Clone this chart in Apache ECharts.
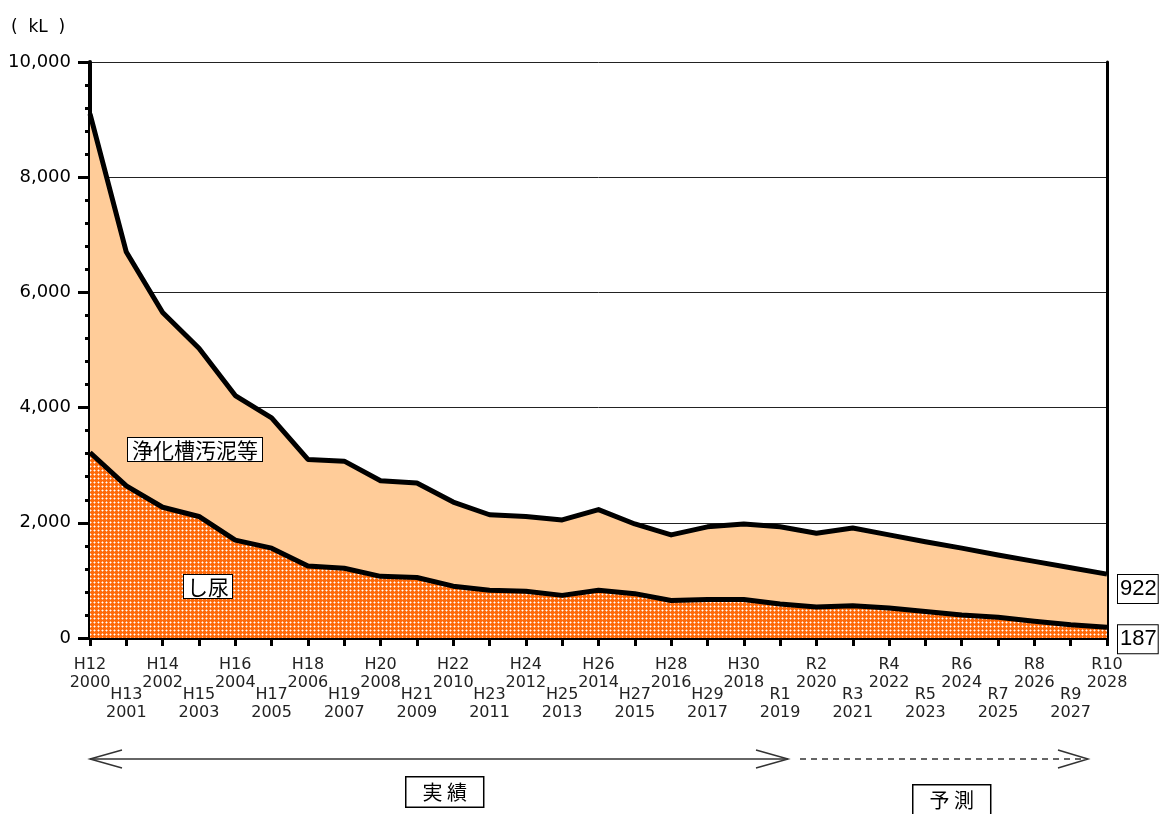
<!DOCTYPE html>
<html>
<head>
<meta charset="utf-8">
<script src="https://cdn.jsdelivr.net/npm/echarts@6/dist/echarts.min.js"></script>
<style>
  html, body { margin: 0; padding: 0; background: #fff; }
  #chart { width: 1161px; height: 814px; }
</style>
</head>
<body>
<div id="chart"></div>
<script>
// Fiscal years (Japanese era + western year)
const eraLabels = ['H12','H13','H14','H15','H16','H17','H18','H19','H20','H21','H22','H23','H24','H25','H26','H27','H28','H29','H30','R1','R2','R3','R4','R5','R6','R7','R8','R9','R10'];
const years = ['2000','2001','2002','2003','2004','2005','2006','2007','2008','2009','2010','2011','2012','2013','2014','2015','2016','2017','2018','2019','2020','2021','2022','2023','2024','2025','2026','2027','2028'];

// Night soil (kL)
const nightSoil = [3220,2640,2270,2110,1700,1560,1250,1210,1070,1050,900,830,810,740,830,770,650,670,670,590,540,560,520,460,400,360,290,230,187];
// Septic tank sludge etc. (kL), stacked on top of night soil
const septicSludge = [5880,4060,3380,2920,2510,2260,1850,1860,1660,1640,1460,1310,1300,1310,1400,1210,1140,1260,1310,1340,1280,1350,1270,1210,1160,1080,1040,990,922];

const yTicks = { min: 0, max: 10000, interval: 2000 };

// dotted orange fill for the night soil band
function dotPattern() {
  const c = document.createElement('canvas');
  c.width = 4; c.height = 4;
  const g = c.getContext('2d');
  g.fillStyle = '#FF6A0A';
  g.fillRect(0, 0, 4, 4);
  g.fillStyle = '#FFB585';
  g.fillRect(1, 2, 1, 1); g.fillRect(3, 2, 1, 1);
  g.fillRect(2, 1, 1, 1); g.fillRect(2, 3, 1, 1);
  g.fillStyle = '#FFFFFF';
  g.fillRect(2, 2, 1, 1);
  return { image: c, repeat: 'repeat' };
}

// boxed value shown beyond the last point of a series
const endValueLabel = (offsetY) => ({
  show: true,
  distance: 11,
  offset: [0, offsetY],
  formatter: (p) => String(p.value),
  fontFamily: 'Liberation Sans',
  fontSize: 22,
  color: '#000',
  backgroundColor: '#fff',
  borderColor: '#000',
  borderWidth: 1,
  padding: [4, 1, 2, 2]
});

const categories = years.map((y, i) => eraLabels[i] + '|' + y);

const chart = echarts.init(document.getElementById('chart'), null, { renderer: 'canvas' });

chart.setOption({
  animation: false,
  backgroundColor: '#fff',
  grid: { left: 90, right: 54, top: 62, bottom: 176 },
  xAxis: [{
    type: 'category',
    data: categories,
    boundaryGap: false,
    axisLine: { lineStyle: { color: '#000', width: 4 } },
    axisTick: { show: true, length: 8, lineStyle: { color: '#000', width: 3 } },
    axisLabel: {
      interval: 0,
      margin: 18,
      fontFamily: 'DejaVu Sans',
      fontSize: 16,
      color: '#222',
      formatter: (v, i) => {
        const [era, yr] = v.split('|');
        return i % 2 === 0 ? `{a|${era}}\n{a|${yr}}` : `{s| }\n{a|${era}}\n{a|${yr}}`;
      },
      rich: {
        a: { fontFamily: 'DejaVu Sans', fontSize: 16, lineHeight: 18, color: '#222' },
        s: { fontSize: 2, lineHeight: 30 }
      }
    },
    splitLine: { show: false }
  }, {
    type: 'category',
    data: categories,
    position: 'top',
    boundaryGap: false,
    axisLine: { lineStyle: { color: '#000', width: 3 } },
    axisTick: { show: false },
    axisLabel: { show: false }
  }],
  yAxis: [{
    type: 'value',
    min: yTicks.min,
    max: yTicks.max,
    interval: yTicks.interval,
    axisLine: { show: true, lineStyle: { color: '#000', width: 4 } },
    axisTick: { show: true, length: 12, lineStyle: { color: '#000', width: 3 } },
    minorTick: { show: true, splitNumber: 5, length: 5, lineStyle: { color: '#000', width: 3 } },
    axisLabel: {
      margin: 19,
      fontFamily: 'DejaVu Sans',
      fontSize: 18,
      color: '#000',
      formatter: (v) => v.toLocaleString('en-US')
    },
    splitLine: { show: true, lineStyle: { color: '#222', width: 1 } }
  }, {
    type: 'value',
    position: 'right',
    min: yTicks.min,
    max: yTicks.max,
    interval: yTicks.interval,
    axisLine: { show: true, lineStyle: { color: '#000', width: 3 } },
    axisTick: { show: false },
    axisLabel: { show: false },
    splitLine: { show: false }
  }],
  series: [{
    name: 'し尿',
    type: 'line',
    stack: 'total',
    data: nightSoil,
    showSymbol: false,
    lineStyle: { color: '#000', width: 5, join: 'round' },
    areaStyle: { color: dotPattern(), opacity: 1 },
    endLabel: endValueLabel(12),
    z: 3
  }, {
    name: '浄化槽汚泥等',
    type: 'line',
    stack: 'total',
    data: septicSludge,
    showSymbol: false,
    lineStyle: { color: '#000', width: 5, join: 'round' },
    areaStyle: { color: '#FFCC99', opacity: 1 },
    endLabel: endValueLabel(15),
    z: 2
  }],
  graphic: [
    // unit
    { type: 'text', left: 11, top: 19, style: { text: '(  kL  )', fontFamily: 'DejaVu Sans', fontSize: 17, fill: '#000' } },
    // series name boxes
    { type: 'text', left: 127, top: 437, z: 100, style: {
      text: '浄化槽汚泥等', fontFamily: 'Noto Sans CJK JP', fontSize: 21, fill: '#000',
      backgroundColor: '#fff', borderColor: '#000', borderWidth: 1, padding: [2, 4, 0, 4] } },
    { type: 'text', left: 183, top: 574, z: 100, style: {
      text: 'し尿', fontFamily: 'Noto Sans CJK JP', fontSize: 21, fill: '#000',
      backgroundColor: '#fff', borderColor: '#000', borderWidth: 1, padding: [2, 3, 0, 3] } },
    // actual-results span arrow
    { type: 'line', shape: { x1: 90, y1: 759, x2: 788, y2: 759 }, style: { stroke: '#333', lineWidth: 1.5 } },
    { type: 'polyline', shape: { points: [[122, 750], [90, 759], [122, 768]] }, style: { stroke: '#333', lineWidth: 1.5, fill: null } },
    { type: 'polyline', shape: { points: [[756, 750], [788, 759], [756, 768]] }, style: { stroke: '#333', lineWidth: 1.5, fill: null } },
    // forecast span arrow
    { type: 'line', shape: { x1: 800, y1: 759, x2: 1087, y2: 759 }, style: { stroke: '#333', lineWidth: 1.5, lineDash: [6, 5] } },
    { type: 'polyline', shape: { points: [[1058, 750], [1088, 759], [1058, 768]] }, style: { stroke: '#333', lineWidth: 1.5, fill: null } },
    // span captions
    { type: 'text', left: 405, top: 776, style: {
      text: '実 績', fontFamily: 'Noto Sans CJK JP', fontSize: 20, fill: '#000',
      backgroundColor: '#fff', borderColor: '#000', borderWidth: 1.5, padding: [5, 16, 4, 16] } },
    { type: 'text', left: 912, top: 784, style: {
      text: '予 測', fontFamily: 'Noto Sans CJK JP', fontSize: 20, fill: '#000',
      backgroundColor: '#fff', borderColor: '#000', borderWidth: 1.5, padding: [5, 16, 4, 16] } }
  ]
});
</script>
</body>
</html>
